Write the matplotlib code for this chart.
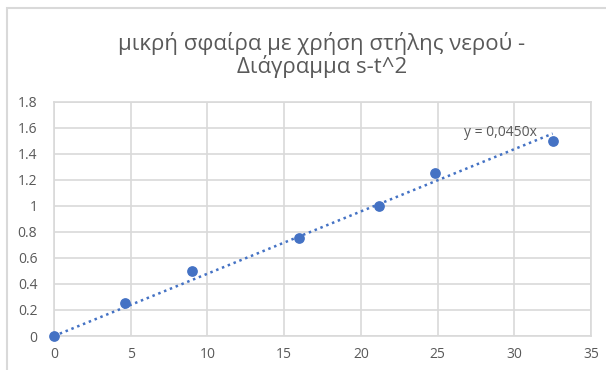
import numpy as np
import matplotlib.pyplot as plt
from matplotlib.patches import Rectangle

# data (t^2, s)
t2 = [0, 4.6, 9.0, 16.0, 21.2, 24.8, 32.5]
s = [0, 0.25, 0.5, 0.75, 1.0, 1.25, 1.5]
x_ticks = [0, 5, 10, 15, 20, 25, 30, 35]
y_ticks = [0, 0.2, 0.4, 0.6, 0.8, 1, 1.2, 1.4, 1.6, 1.8]
y_labels = ['0', '0.2', '0.4', '0.6', '0.8', '1', '1.2', '1.4', '1.6', '1.8']
title = 'μικρή σφαίρα με χρήση στήλης νερού -\nΔιάγραμμα s-t^2'
eq_label = 'y = 0,0450x'

plt.rcParams['font.family'] = ['Open Sans', 'DejaVu Sans']

W, H = 606, 370
fig = plt.figure(figsize=(W / 100, H / 100), dpi=100)
ax = fig.add_axes([54 / W, (H - 336) / H, (591 - 54) / W, (336 - 101.7) / H])

# chart outer border (left/top visible only)
fig.patches.append(Rectangle((7 / W, -0.1), 1.2, (H - 8) / H + 0.1, transform=fig.transFigure,
                             fill=False, edgecolor='#d9d9d9', linewidth=1.5))

blue = '#4472C4'
grey = '#595959'

# linear trendline through origin
x = np.array(t2)
y = np.array(s)
k = np.sum(x * y) / np.sum(x * x)
ax.plot([0, x.max()], [0, k * x.max()], linestyle=(0, (1, 1.5)), color=blue, linewidth=1.8, zorder=2)
ax.scatter(t2, s, s=45, color=blue, zorder=3, clip_on=False)

ax.text(31.5, 1.56, eq_label, ha='right', va='center', fontsize=10, color=grey)

ax.set_xlim(0, 35)
ax.set_ylim(0, 1.8)
ax.set_xticks(x_ticks)
ax.set_yticks(y_ticks)
ax.set_yticklabels(y_labels)
ax.grid(True, color='#d9d9d9', linewidth=1.2)
ax.set_axisbelow(True)
for side in ['top', 'right', 'left', 'bottom']:
    ax.spines[side].set_color('#d9d9d9')
    ax.spines[side].set_linewidth(1.2)
ax.tick_params(length=0, labelsize=10, colors=grey, pad=8)
ax.tick_params(axis='y', pad=12)

fig.text(322 / W, 1 - 55 / H, title, ha='center', va='center', fontsize=16, color=grey, linespacing=1.05)

fig.savefig('out.png', dpi=100, facecolor='white')
